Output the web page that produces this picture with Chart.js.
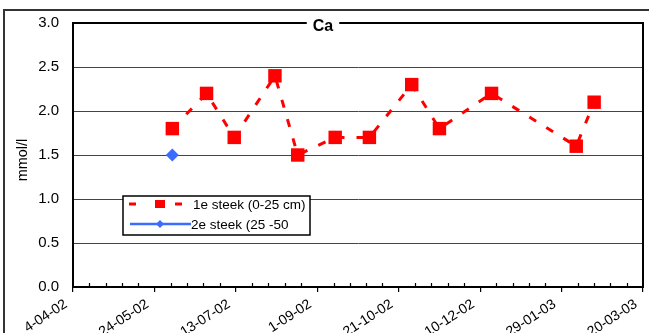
<!DOCTYPE html>
<html>
<head>
<meta charset="utf-8">
<script src="https://cdn.jsdelivr.net/npm/chart.js@4.4.1/dist/chart.umd.min.js"></script>
<style>
  html, body { margin: 0; padding: 0; background: #fff; }
  #wrap { width: 649px; height: 333px; position: relative; }
</style>
</head>
<body>
<div id="wrap"><canvas id="c" width="649" height="333"></canvas></div>
<script>
// Ca concentration (mmol/l) per sampling date
const startDate = '2002-04-04';
const layer1Dates = ['2002-06-04', '2002-06-25', '2002-07-12', '2002-08-06', '2002-08-20', '2002-09-12',
                     '2002-10-03', '2002-10-29', '2002-11-15', '2002-12-17', '2003-02-07', '2003-02-18'];
const layer1Values = [1.8, 2.2, 1.7, 2.4, 1.5, 1.7, 1.7, 2.3, 1.8, 2.2, 1.6, 2.1];
const layer2Dates = ['2002-06-04'];
const layer2Values = [1.5];
const seriesNames = ['1e steek (0-25 cm)', '2e steek (25 -50'];
const chartTitle = 'Ca';
const yAxisTitle = 'mmol/l';
const yTicks = [0, 0.5, 1.0, 1.5, 2.0, 2.5, 3.0];
const xTickDays = [0, 50, 100, 150, 200, 250, 300, 350];

const DAY = 86400000;
const t0 = Date.parse(startDate + 'T00:00:00Z');
const dayOf = s => Math.round((Date.parse(s + 'T00:00:00Z') - t0) / DAY);
const fmtDay = d => {
  const dt = new Date(t0 + d * DAY);
  const mm = String(dt.getUTCMonth() + 1).padStart(2, '0');
  const yy = String(dt.getUTCFullYear() % 100).padStart(2, '0');
  return dt.getUTCDate() + '-' + mm + '-' + yy;
};
const toPoints = (dates, vals) => dates.map((d, i) => ({ x: dayOf(d), y: vals[i] }));

const RED = '#ff0000';
const BLUE = '#3a6cff';
const FONT = "'Liberation Sans', Arial, sans-serif";

const decorations = {
  id: 'decorations',
  beforeDatasetsDraw(chart) {
    const { ctx, chartArea: a } = chart;
    ctx.save();
    // plot frame
    ctx.strokeStyle = '#000';
    ctx.lineWidth = 2;
    ctx.strokeRect(a.left, a.top, a.right - a.left, a.bottom - a.top);
    // minor ticks on the date axis
    const xs = chart.scales.x;
    ctx.lineWidth = 1.2;
    for (let d = 10; d < 350; d += 10) {
      if (d % 50 === 0) continue;
      const px = Math.round(xs.getPixelForValue(d)) + 0.5;
      ctx.beginPath();
      ctx.moveTo(px, a.bottom - 4);
      ctx.lineTo(px, a.bottom);
      ctx.stroke();
    }
    ctx.restore();
  },
  afterDraw(chart) {
    const { ctx, chartArea: a } = chart;
    ctx.save();
    // outer frame
    ctx.strokeStyle = '#333';
    ctx.lineWidth = 2;
    ctx.strokeRect(4, 10, 700, 400);

    // title over the top frame line
    ctx.font = 'bold 16px ' + FONT;
    const tw = ctx.measureText(chartTitle).width;
    const tx = 323;
    ctx.fillStyle = '#fff';
    ctx.fillRect(tx - tw / 2 - 6, a.top - 4, tw + 12, 16);
    ctx.fillStyle = '#000';
    ctx.textAlign = 'center';
    ctx.textBaseline = 'middle';
    ctx.fillText(chartTitle, tx, a.top + 4);

    // y axis title
    ctx.save();
    ctx.translate(23, 160);
    ctx.rotate(-Math.PI / 2);
    ctx.font = '14.5px ' + FONT;
    ctx.fillText(yAxisTitle, 0, 0);
    ctx.restore();

    // legend box
    const lx = 123, ly = 196, lw = 187, lh = 39;
    ctx.fillStyle = '#fff';
    ctx.fillRect(lx, ly, lw, lh);
    ctx.strokeStyle = '#000';
    ctx.lineWidth = 1.5;
    ctx.strokeRect(lx, ly, lw, lh);

    // series 1 sample: dash, square, dash
    const r1 = 204, r2 = 224;
    ctx.strokeStyle = RED;
    ctx.lineWidth = 3;
    ctx.beginPath();
    ctx.moveTo(129, r1); ctx.lineTo(136, r1);
    ctx.moveTo(175, r1); ctx.lineTo(182, r1);
    ctx.stroke();
    ctx.fillStyle = RED;
    ctx.fillRect(155, r1 - 4, 10, 8);

    // series 2 sample: solid line with diamond
    ctx.strokeStyle = BLUE;
    ctx.lineWidth = 2.5;
    ctx.beginPath();
    ctx.moveTo(130, r2); ctx.lineTo(191, r2);
    ctx.stroke();
    ctx.fillStyle = BLUE;
    ctx.beginPath();
    ctx.moveTo(160, r2 - 4); ctx.lineTo(164, r2); ctx.lineTo(160, r2 + 4); ctx.lineTo(156, r2);
    ctx.closePath();
    ctx.fill();

    ctx.fillStyle = '#000';
    ctx.font = '13.5px ' + FONT;
    ctx.textAlign = 'left';
    ctx.textBaseline = 'middle';
    ctx.fillText(seriesNames[0], 193, r1 + 1);
    ctx.fillText(seriesNames[1], 191, r2 + 1);
    ctx.restore();
  }
};

new Chart(document.getElementById('c'), {
  type: 'line',
  data: {
    datasets: [
      {
        label: seriesNames[0],
        data: toPoints(layer1Dates, layer1Values),
        borderColor: RED,
        backgroundColor: RED,
        borderWidth: 3,
        borderDash: [8, 12],
        pointStyle: 'rect',
        pointRadius: 9.5,
        pointHoverRadius: 9.5,
        pointBorderWidth: 0,
        tension: 0
      },
      {
        label: seriesNames[1],
        data: toPoints(layer2Dates, layer2Values),
        borderColor: BLUE,
        backgroundColor: BLUE,
        borderWidth: 2.5,
        pointStyle: 'rectRot',
        pointRadius: 6.5,
        pointHoverRadius: 6.5,
        pointBorderWidth: 0
      }
    ]
  },
  options: {
    responsive: false,
    animation: false,
    events: [],
    layout: { autoPadding: false, padding: { left: 0, right: 6, top: 21, bottom: 0 } },
    plugins: { legend: { display: false }, tooltip: { enabled: false }, title: { display: false } },
    scales: {
      x: {
        type: 'linear',
        min: 0,
        max: 350,
        afterBuildTicks(scale) { scale.ticks = xTickDays.map(v => ({ value: v })); },
        afterFit(scale) { scale.height = 46; scale.paddingLeft = 0; scale.paddingRight = 0; },
        ticks: {
          autoSkip: false,
          maxRotation: 33,
          minRotation: 33,
          padding: 4,
          labelOffset: -7,
          color: '#000',
          font: { family: FONT, size: 14 },
          callback: v => fmtDay(v)
        },
        grid: { drawOnChartArea: false, drawTicks: true, tickLength: 5, color: '#000', lineWidth: 1.2 },
        border: { display: true, color: '#000', width: 2 }
      },
      y: {
        min: 0,
        max: 3,
        afterBuildTicks(scale) { scale.ticks = yTicks.map(v => ({ value: v })); },
        afterFit(scale) { scale.width = 73; },
        ticks: {
          padding: 14,
          color: '#000',
          font: { family: FONT, size: 15 },
          callback: v => Number(v).toFixed(1)
        },
        grid: { drawTicks: false, color: '#444', lineWidth: 1 },
        border: { display: true, color: '#000', width: 2 }
      }
    }
  },
  plugins: [decorations]
});
</script>
</body>
</html>
